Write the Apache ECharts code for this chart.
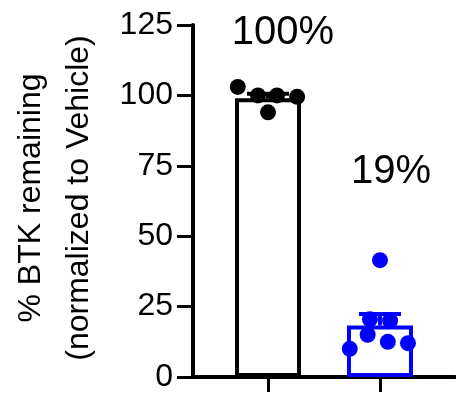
<!DOCTYPE html>
<html>
<head>
<meta charset="utf-8">
<script src="https://cdn.jsdelivr.net/npm/echarts@6/dist/echarts.min.js"></script>
<style>
html,body{margin:0;padding:0;background:#fff;}
#c{width:456px;height:395px;}
</style>
</head>
<body>
<div id="c"></div>
<script>
// ---- data ----
const categories = ['Vehicle', 'Treated'];
const groupX = [1, 2];
const barMeans = [99, 18.3];
const errUpper = [100.6, 22.4];
const pctLabels = ['100%', '19%'];
const dots1 = [103, 100, 100, 99.5, 94];
const jitter1 = [-0.27, -0.09, 0.08, 0.26, 0];
const dots2 = [41.5, 20.5, 20, 15, 12.5, 12, 10];
const jitter2 = [0, -0.09, 0.09, -0.11, 0.07, 0.25, -0.27];
const yTicks = [0, 25, 50, 75, 100, 125];
const colors = ['#000000', '#0000ff'];

const FONT = '"Liberation Sans", Arial, sans-serif';
const chart = echarts.init(document.getElementById('c'), null, {renderer: 'canvas'});

const barData = barMeans.map((v, i) => ({
  value: [groupX[i], v],
  itemStyle: {color: '#ffffff', borderColor: colors[i], borderWidth: 4}
}));
const errData = barMeans.map((v, i) => [groupX[i], v, errUpper[i], i]);
const dotData1 = dots1.map((v, i) => [groupX[0] + jitter1[i], v]);
const dotData2 = dots2.map((v, i) => [groupX[1] + jitter2[i], v]);

chart.setOption({
  animation: false,
  grid: {left: 193, right: 1, top: 25, bottom: 18, containLabel: false},
  xAxis: {
    type: 'value', min: 0.33, max: 2.67,
    axisLine: {show: true, onZero: false, lineStyle: {color: '#000', width: 4}},
    axisTick: {show: true, customValues: groupX, length: 15, lineStyle: {color: '#000', width: 3}},
    axisLabel: {show: false},
    splitLine: {show: false}
  },
  yAxis: {
    type: 'value', min: yTicks[0], max: yTicks[yTicks.length - 1], interval: 25,
    axisLine: {show: true, lineStyle: {color: '#000', width: 4}},
    axisTick: {show: true, length: 16, lineStyle: {color: '#000', width: 3}},
    axisLabel: {color: '#000', fontSize: 32, fontFamily: FONT, margin: 20},
    splitLine: {show: false}
  },
  series: [
    {
      type: 'bar', data: barData, barWidth: 66, z: 1
    },
    {
      type: 'custom', z: 2,
      data: errData,
      renderItem: function (params, api) {
        const x = api.value(0);
        const lo = api.coord([x, api.value(1)]);
        const hi = api.coord([x, api.value(2)]);
        const c = colors[api.value(3)];
        return {
          type: 'group',
          children: [
            {type: 'line', shape: {x1: lo[0], y1: lo[1], x2: hi[0], y2: hi[1]}, style: {stroke: c, lineWidth: 4}},
            {type: 'line', shape: {x1: hi[0] - 21, y1: hi[1], x2: hi[0] + 21, y2: hi[1]}, style: {stroke: c, lineWidth: 4}}
          ]
        };
      }
    },
    {type: 'scatter', data: dotData1, symbolSize: 16, itemStyle: {color: colors[0], opacity: 1}, z: 3},
    {type: 'scatter', data: dotData2, symbolSize: 16, itemStyle: {color: colors[1], opacity: 1}, z: 3}
  ],
  graphic: [
    {type: 'text', x: 31, y: 198, rotation: Math.PI / 2,
     style: {text: '% BTK remaining', fontSize: 32, fontFamily: FONT, fill: '#000', align: 'center', verticalAlign: 'middle', textAlign: 'center', textVerticalAlign: 'middle'}},
    {type: 'text', x: 79, y: 198, rotation: Math.PI / 2,
     style: {text: '(normalized to Vehicle)', fontSize: 32, fontFamily: FONT, fill: '#000', align: 'center', verticalAlign: 'middle', textAlign: 'center', textVerticalAlign: 'middle'}},
    {type: 'text', x: 283, y: 33,
     style: {text: pctLabels[0], fontSize: 40, fontFamily: FONT, fill: '#000', align: 'center', verticalAlign: 'middle', textAlign: 'center', textVerticalAlign: 'middle'}},
    {type: 'text', x: 391, y: 172,
     style: {text: pctLabels[1], fontSize: 40, fontFamily: FONT, fill: '#000', align: 'center', verticalAlign: 'middle', textAlign: 'center', textVerticalAlign: 'middle'}}
  ]
});
</script>
</body>
</html>
